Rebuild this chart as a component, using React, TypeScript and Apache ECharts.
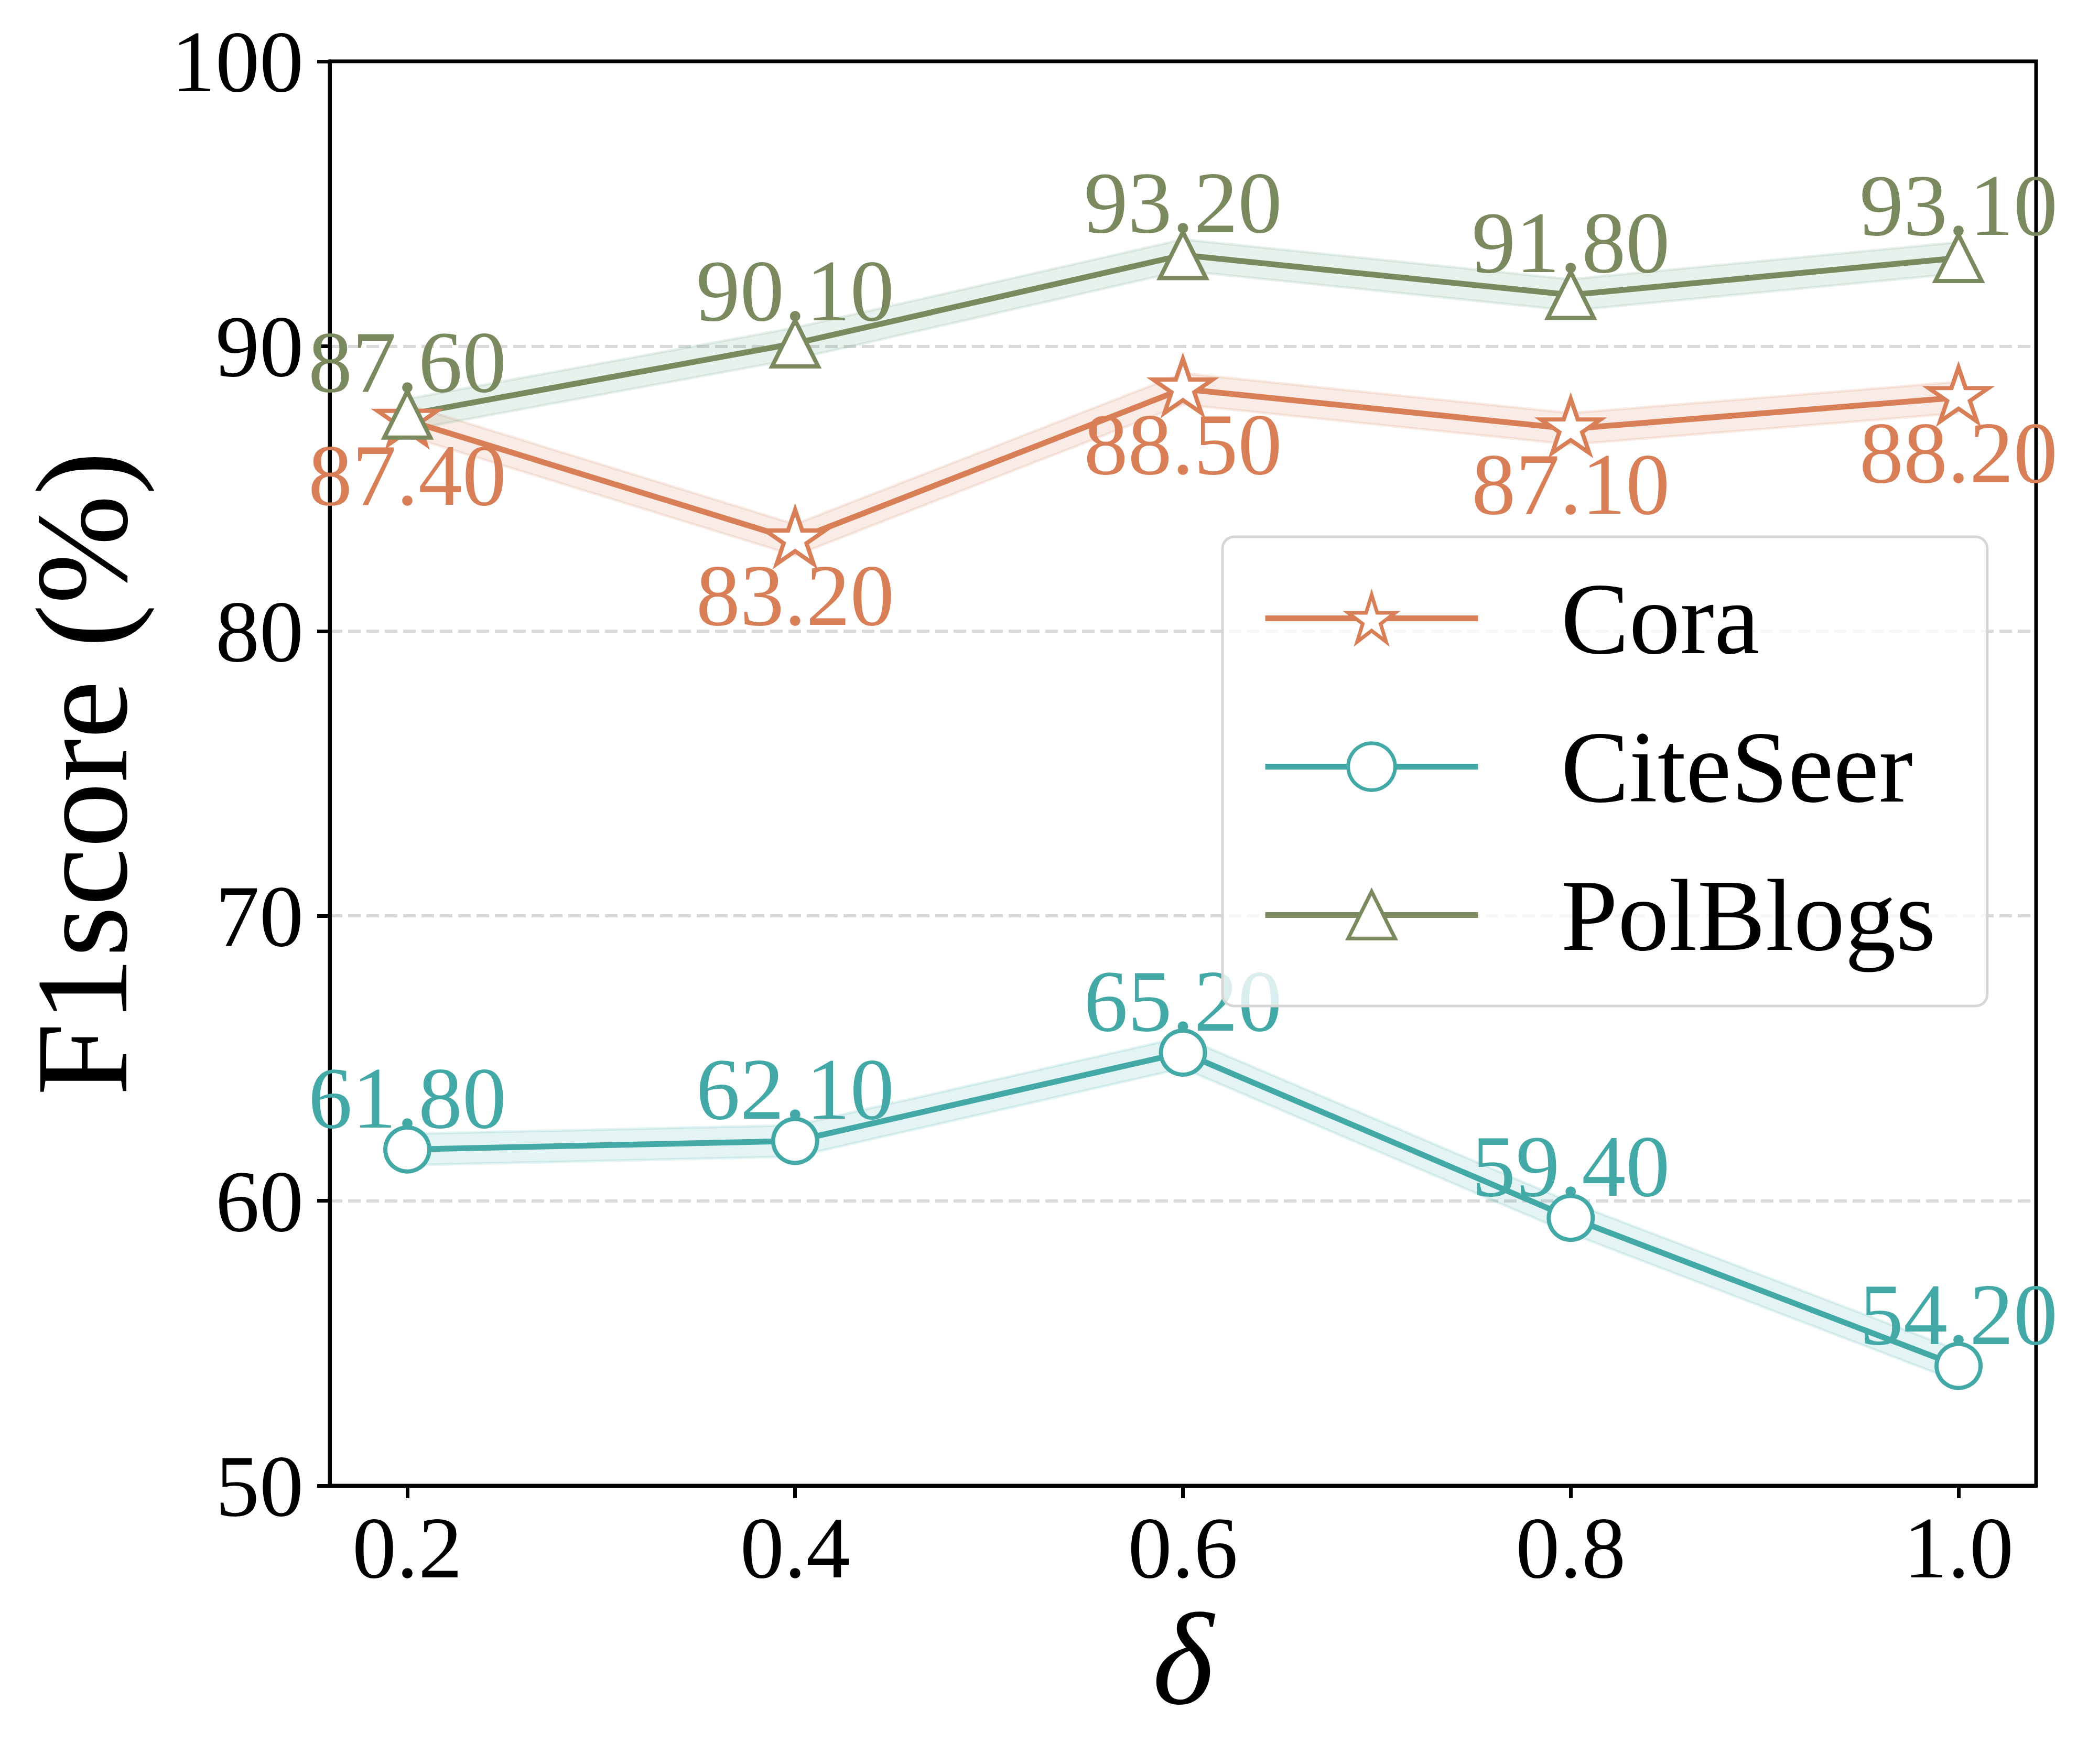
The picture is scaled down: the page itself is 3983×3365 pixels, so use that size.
import React, { useEffect, useRef } from 'react';
import * as echarts from 'echarts';

// ---- data ----
const deltas = [0.2, 0.4, 0.6, 0.8, 1.0];
const xTickValues = [0.2, 0.4, 0.6, 0.8, 1.0];
const coraF1 = [87.4, 83.2, 88.5, 87.1, 88.2];
const citeseerF1 = [61.8, 62.1, 65.2, 59.4, 54.2];
const polblogsF1 = [87.6, 90.1, 93.2, 91.8, 93.1];
const seriesNames = ['Cora', 'CiteSeer', 'PolBlogs'];
const yAxisTitle = 'F1score (%)';
const xAxisTitle = 'δ';
const BAND_HALF = 0.55;

// ---- style ----
const SERIF = '"Liberation Serif", "Times New Roman", serif';
const C_CORA = '#D97F58';
const C_CITE = '#42A9A7';
const C_POL = '#7A895E';
const BAND_CORA = 'rgba(217,127,88,0.15)';
const BAND_CITE = 'rgba(66,169,167,0.14)';
const BAND_POL = 'rgba(102,162,128,0.15)';

function starPath(R: number, r: number): string {
  let d = '';
  for (let i = 0; i < 10; i++) {
    const a = ((-90 + 36 * i) * Math.PI) / 180;
    const rad = i % 2 === 0 ? R : r;
    d += (i === 0 ? 'M' : 'L') + (rad * Math.cos(a)).toFixed(3) + ' ' + (rad * Math.sin(a)).toFixed(3) + ' ';
  }
  return 'path://' + d + 'Z';
}
const STAR = starPath(60, 60 * 0.381966);

function pairs(values: number[]) {
  return deltas.map((x, i) => [x, values[i]]);
}

function bandSeries(key: string, values: number[], color: string) {
  return {
    type: 'custom',
    name: key + ' band',
    data: pairs(values),
    encode: { x: 0, y: 1 },
    silent: true,
    z: 1,
    renderItem: (params: any, api: any) => {
      if (params.dataIndex !== 0) return null;
      const up = deltas.map((x, i) => api.coord([x, values[i] + BAND_HALF]));
      const lo = deltas.map((x, i) => api.coord([x, values[i] - BAND_HALF]));
      return {
        type: 'group',
        children: [
          { type: 'polygon', shape: { points: [...up, ...lo.slice().reverse()] }, style: { fill: color } },
          { type: 'polyline', shape: { points: up }, style: { stroke: color, lineWidth: 5, fill: null } },
          { type: 'polyline', shape: { points: lo }, style: { stroke: color, lineWidth: 5, fill: null } },
        ],
      };
    },
  };
}

function mainSeries(
  name: string,
  values: number[],
  color: string,
  symbol: string,
  symbolSize: any,
  labelPos: 'top' | 'bottom',
  symbolOffset: number[] = [0, 0]
) {
  return {
    type: 'line',
    name,
    data: pairs(values),
    symbol,
    symbolSize,
    symbolOffset,
    symbolKeepAspect: true,
    showAllSymbol: true,
    lineStyle: { color, width: 11 },
    itemStyle: { color: '#ffffff', borderColor: color, borderWidth: 8 },
    label: {
      show: true,
      position: labelPos,
      distance: labelPos === 'top' ? -31 : -29,
      color,
      fontSize: 168,
      fontFamily: SERIF,
      formatter: (p: any) => Number(p.value[1]).toFixed(2),
    },
    emphasis: { disabled: true },
    z: 2,
  };
}

export default function App() {
  const ref = useRef<HTMLDivElement>(null);

  useEffect(() => {
    if (!ref.current) return;
    const chart = echarts.init(ref.current, undefined, { renderer: 'svg' });
    const option: any = {
      animation: false,
      backgroundColor: '#ffffff',
      grid: {
        left: 629,
        top: 117,
        right: 99,
        bottom: 531,
        show: true,
        borderColor: '#000000',
        borderWidth: 7,
        backgroundColor: 'transparent',
      },
      xAxis: {
        type: 'value',
        min: 0.16,
        max: 1.04,
        name: xAxisTitle,
        nameLocation: 'middle',
        nameGap: 202,
        nameTextStyle: { fontFamily: SERIF, fontStyle: 'italic', fontSize: 250, color: '#000' },
        axisLine: { show: true, lineStyle: { color: '#000', width: 7 } },
        axisTick: { show: true, customValues: xTickValues, length: 24, lineStyle: { color: '#000', width: 7 } },
        axisLabel: {
          show: true,
          customValues: xTickValues,
          formatter: (v: number) => v.toFixed(1),
          fontFamily: SERIF,
          fontSize: 168,
          color: '#000',
          margin: 34,
        },
        splitLine: { show: false },
      },
      yAxis: {
        type: 'value',
        min: 50,
        max: 100,
        interval: 10,
        name: yAxisTitle,
        nameLocation: 'middle',
        nameGap: 348,
        nameTextStyle: { fontFamily: SERIF, fontSize: 250, color: '#000' },
        axisLine: { show: true, lineStyle: { color: '#000', width: 7 } },
        axisTick: { show: true, length: 24, lineStyle: { color: '#000', width: 7 } },
        axisLabel: { fontFamily: SERIF, fontSize: 168, color: '#000', margin: 50 },
        splitLine: {
          show: true,
          showMinLine: false,
          showMaxLine: false,
          lineStyle: { color: '#d9d9d9', width: 6, type: [24, 11] },
        },
      },
      legend: {
        data: seriesNames,
        orient: 'vertical',
        left: 2332,
        top: 1024,
        itemWidth: 406,
        itemHeight: 112,
        itemGap: 88,
        padding: [58, 98, 76, 76],
        backgroundColor: 'rgba(255,255,255,0.8)',
        borderColor: '#d6d6d6',
        borderWidth: 5,
        borderRadius: 22,
        lineStyle: { width: 11 },
        itemStyle: { borderWidth: 7 },
        textStyle: {
          fontFamily: SERIF,
          fontSize: 195,
          lineHeight: 195,
          color: '#000',
          padding: [0, 0, 0, 153],
        },
        selectedMode: false,
        z: 10,
        zlevel: 1,
      },
      series: [
        bandSeries('Cora', coraF1, BAND_CORA),
        mainSeries('Cora', coraF1, C_CORA, STAR, [114, 108.5], 'bottom', [0, -5.75]),
        bandSeries('CiteSeer', citeseerF1, BAND_CITE),
        mainSeries('CiteSeer', citeseerF1, C_CITE, 'circle', 84, 'top'),
        bandSeries('PolBlogs', polblogsF1, BAND_POL),
        mainSeries('PolBlogs', polblogsF1, C_POL, 'triangle', 88, 'top'),
      ],
    };
    chart.setOption(option);
    return () => chart.dispose();
  }, []);

  return (
    <div
      ref={ref}
      style={{ position: 'fixed', left: 0, top: 0, width: '3983px', height: '3365px', background: '#fff' }}
    />
  );
}
